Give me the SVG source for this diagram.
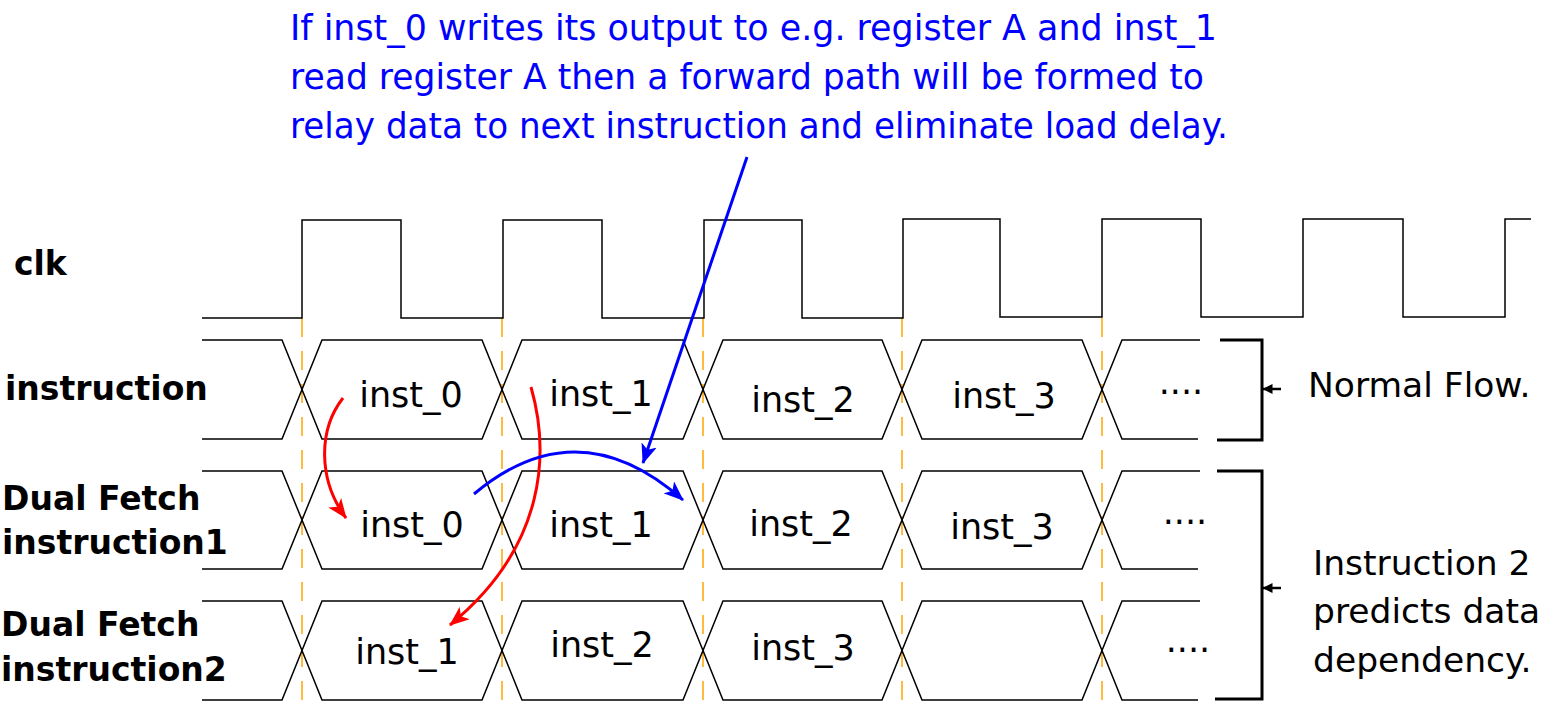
<svg xmlns="http://www.w3.org/2000/svg" width="1547" height="702" viewBox="0 0 1547 702">
<style>
  .sig { fill: none; stroke: #000; stroke-width: 1.5; }
  .guide { fill: none; stroke: #FFA500; stroke-width: 1.5; stroke-dasharray: 19 14; }
  .lbl { font-family: "DejaVu Sans", Verdana, sans-serif; font-weight: bold; font-size: 33px; fill: #000; }
  .cell { font-family: "DejaVu Sans", Verdana, sans-serif; font-size: 35px; fill: #000; text-anchor: middle; }
  .note { font-family: "DejaVu Sans", Verdana, sans-serif; font-size: 34.5px; fill: #000; }
  .blue { font-family: "DejaVu Sans", Verdana, sans-serif; font-size: 35px; fill: #0000FF; }
  .brk { fill: none; stroke: #000; stroke-width: 3; }
  .red { fill: none; stroke: #FF0000; stroke-width: 3; }
  .bl { fill: none; stroke: #0000FF; stroke-width: 3; }
</style>
<defs>
  <marker id="ahRed" viewBox="0 0 20 16" refX="19" refY="8" markerWidth="20" markerHeight="16" markerUnits="userSpaceOnUse" orient="auto">
    <path d="M0,0 L20,8 L0,16 L5,8 z" fill="#FF0000"/>
  </marker>
  <marker id="ahBlue" viewBox="0 0 20 16" refX="19" refY="8" markerWidth="20" markerHeight="16" markerUnits="userSpaceOnUse" orient="auto">
    <path d="M0,0 L20,8 L0,16 L5,8 z" fill="#0000FF"/>
  </marker>
  <marker id="ahBlack" viewBox="0 0 10 10" refX="9.5" refY="5" markerWidth="10" markerHeight="10" markerUnits="userSpaceOnUse" orient="auto">
    <path d="M0,0 L10,5 L0,10 z" fill="#000"/>
  </marker>
</defs>

<g id="labels">
  <text class="lbl" x="14" y="275">clk</text>
  <text class="lbl" x="5" y="400">instruction</text>
  <text class="lbl" x="2" y="510">Dual Fetch</text>
  <text class="lbl" x="2" y="554">instruction1</text>
  <text class="lbl" x="1" y="636">Dual Fetch</text>
  <text class="lbl" x="1" y="681">instruction2</text>
</g>

<g id="guides">
  <line class="guide" x1="302" y1="318" x2="302" y2="702"/>
  <line class="guide" x1="502" y1="318" x2="502" y2="702"/>
  <line class="guide" x1="703" y1="318" x2="703" y2="702"/>
  <line class="guide" x1="902" y1="318" x2="902" y2="702"/>
  <line class="guide" x1="1102" y1="318" x2="1102" y2="702"/>
</g>

<g id="clk">
  <path class="sig" d="M202,318 H302 V220 H401 V318 H503 V220 H602 V318 H704 V220 H802 V318 H903 V219 H1000 V317 H1102 V219 H1201 V317 H1303 V219 H1403 V317 H1505 V219 H1531"/>
</g>

<g id="row-instruction">
  <path class="sig" d="M202,340 H282 L322,439 H482 L522,340 H683 L723,439 H882 L922,340 H1082 L1122,439 H1198"/>
  <path class="sig" d="M202,439 H282 L322,340 H482 L522,439 H683 L723,340 H882 L922,439 H1082 L1122,340 H1200"/>
  <text class="cell" x="411" y="407">inst_0</text>
  <text class="cell" x="601" y="406">inst_1</text>
  <text class="cell" x="803" y="412">inst_2</text>
  <text class="cell" x="1004" y="408">inst_3</text>
  <text class="cell" x="1181" y="394">....</text>
</g>

<g id="row-dual1">
  <path class="sig" d="M202,471 H282 L322,569 H482 L522,471 H683 L723,569 H882 L922,471 H1082 L1122,569 H1198"/>
  <path class="sig" d="M202,569 H282 L322,471 H482 L522,569 H683 L723,471 H882 L922,569 H1082 L1122,471 H1200"/>
  <text class="cell" x="412" y="537">inst_0</text>
  <text class="cell" x="601" y="537">inst_1</text>
  <text class="cell" x="801" y="536">inst_2</text>
  <text class="cell" x="1002" y="539">inst_3</text>
  <text class="cell" x="1185" y="524">....</text>
</g>

<g id="row-dual2">
  <path class="sig" d="M202,601 H282 L322,700 H482 L522,601 H683 L723,700 H882 L922,601 H1082 L1122,700 H1198"/>
  <path class="sig" d="M202,700 H282 L322,601 H482 L522,700 H683 L723,601 H882 L922,700 H1082 L1122,601 H1200"/>
  <text class="cell" x="407" y="664">inst_1</text>
  <text class="cell" x="602" y="657">inst_2</text>
  <text class="cell" x="803" y="660">inst_3</text>
  <text class="cell" x="1188" y="652">....</text>
</g>

<g id="note-top">
  <text class="blue" x="290" y="40" textLength="927" lengthAdjust="spacingAndGlyphs">If inst_0 writes its output to e.g. register A and inst_1</text>
  <text class="blue" x="290" y="89" textLength="914" lengthAdjust="spacingAndGlyphs">read register A then a forward path will be formed to</text>
  <text class="blue" x="290" y="138" textLength="938" lengthAdjust="spacingAndGlyphs">relay data to next instruction and eliminate load delay.</text>
</g>

<g id="bracket-normal">
  <path class="brk" d="M1220,340 H1262 V440 H1217"/>
  <text class="note" x="1308" y="397">Normal Flow.</text>
</g>

<g id="bracket-dual">
  <path class="brk" d="M1217,471 H1262 V699 H1215"/>
  <text class="note" x="1313" y="575">Instruction 2</text>
  <text class="note" x="1313" y="623">predicts data</text>
  <text class="note" x="1313" y="672">dependency.</text>
</g>

<g id="connectors">
  <line x1="1281" y1="389" x2="1263" y2="389" stroke="#000" stroke-width="2.5" marker-end="url(#ahBlack)"/>
  <line x1="1281" y1="588" x2="1263" y2="588" stroke="#000" stroke-width="2.5" marker-end="url(#ahBlack)"/>
  <path class="red" d="M343,398 C318,430 318,480 346,518" marker-end="url(#ahRed)"/>
  <path class="red" d="M531,387 C549,450 548,545 450,625" marker-end="url(#ahRed)"/>
  <line class="bl" x1="747" y1="157" x2="643" y2="463" marker-end="url(#ahBlue)"/>
  <path class="bl" d="M474,494 Q578,407 683,500" marker-end="url(#ahBlue)"/>
</g>
</svg>
